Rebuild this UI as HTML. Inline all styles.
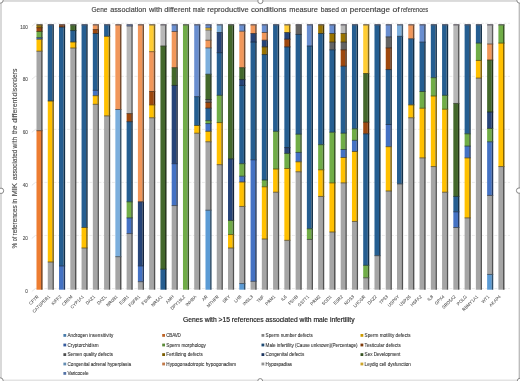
<!DOCTYPE html>
<html><head><meta charset="utf-8"><title>Gene association chart</title>
<style>
html,body{margin:0;padding:0;background:#fff;}
body{width:520px;height:381px;overflow:hidden;}
svg{display:block;will-change:transform;}
text{font-family:"Liberation Sans",sans-serif;}
.tk{font-size:4.6px;fill:#555555;stroke:#555555;stroke-width:0.1px;}
.xl{font-size:4.4px;fill:#4A4A4A;stroke:#4A4A4A;stroke-width:0.05px;}
.lg{font-size:4.6px;fill:#333333;stroke:#333333;stroke-width:0.08px;}
.ti{font-size:8px;fill:#404040;stroke:#404040;stroke-width:0.15px;}
.ax{font-size:6.8px;fill:#1E1E1E;stroke:#1E1E1E;stroke-width:0.18px;}
.ay{font-size:6.8px;fill:#4A4A4A;stroke:#4A4A4A;stroke-width:0.12px;}
</style></head>
<body>
<svg width="520" height="381" viewBox="0 0 520 381">
<rect x="0" y="0" width="520" height="381" fill="#FFFFFF"/>
<text class="ti" x="91.5" y="12.4" textLength="15.9" lengthAdjust="spacingAndGlyphs">Gene</text><text class="ti" x="110.2" y="12.4" textLength="36.1" lengthAdjust="spacingAndGlyphs">association</text><text class="ti" x="148.9" y="12.4" textLength="13.3" lengthAdjust="spacingAndGlyphs">with</text><text class="ti" x="164.2" y="12.4" textLength="26.4" lengthAdjust="spacingAndGlyphs">different</text><text class="ti" x="192.8" y="12.4" textLength="12" lengthAdjust="spacingAndGlyphs">male</text><text class="ti" x="207.2" y="12.4" textLength="41.5" lengthAdjust="spacingAndGlyphs">reproductive</text><text class="ti" x="250.9" y="12.4" textLength="35.6" lengthAdjust="spacingAndGlyphs">conditions</text><text class="ti" x="289.3" y="12.4" textLength="28.6" lengthAdjust="spacingAndGlyphs">measure</text><text class="ti" x="320.7" y="12.4" textLength="18.2" lengthAdjust="spacingAndGlyphs">based</text><text class="ti" x="340.9" y="12.4" textLength="6.3" lengthAdjust="spacingAndGlyphs">on</text><text class="ti" x="349.7" y="12.4" textLength="40.3" lengthAdjust="spacingAndGlyphs">percentage</text><text class="ti" x="392.4" y="12.4" textLength="7.2" lengthAdjust="spacingAndGlyphs">of</text><text class="ti" x="401" y="12.4" textLength="27.2" lengthAdjust="spacingAndGlyphs">references</text>
<text class="ay" transform="translate(16.8,248.4) rotate(-90)" textLength="5.8" lengthAdjust="spacingAndGlyphs">%</text><text class="ay" transform="translate(16.8,241.3) rotate(-90)" textLength="4.6" lengthAdjust="spacingAndGlyphs">of</text><text class="ay" transform="translate(16.8,235.4) rotate(-90)" textLength="30.2" lengthAdjust="spacingAndGlyphs">references</text><text class="ay" transform="translate(16.8,203.6) rotate(-90)" textLength="4.7" lengthAdjust="spacingAndGlyphs">in</text><text class="ay" transform="translate(16.8,196.3) rotate(-90)" textLength="13.1" lengthAdjust="spacingAndGlyphs">MIK</text><text class="ay" transform="translate(16.8,180) rotate(-90)" textLength="30.2" lengthAdjust="spacingAndGlyphs">associated</text><text class="ay" transform="translate(16.8,148.5) rotate(-90)" textLength="11.7" lengthAdjust="spacingAndGlyphs">with</text><text class="ay" transform="translate(16.8,134.1) rotate(-90)" textLength="8.6" lengthAdjust="spacingAndGlyphs">the</text><text class="ay" transform="translate(16.8,122.8) rotate(-90)" textLength="25.2" lengthAdjust="spacingAndGlyphs">different</text><text class="ay" transform="translate(16.8,96.5) rotate(-90)" textLength="27.8" lengthAdjust="spacingAndGlyphs">disorders</text>
<text class="ax" x="183" y="321.8" textLength="171.6" lengthAdjust="spacingAndGlyphs">Genes with &gt;15 references associated with male infertility</text>
<line x1="31.8" y1="26.3" x2="35.4" y2="23.3" stroke="#D9D9D9" stroke-width="0.7"/>
<line x1="35.4" y1="23.3" x2="510" y2="23.3" stroke="#E3E3E3" stroke-width="0.7" stroke-dasharray="3 1.5"/>
<text x="27.9" y="28.6" text-anchor="end" class="tk">100</text>
<line x1="31.8" y1="79.34" x2="35.4" y2="76.34" stroke="#D9D9D9" stroke-width="0.7"/>
<line x1="35.4" y1="76.34" x2="510" y2="76.34" stroke="#E3E3E3" stroke-width="0.7" stroke-dasharray="3 1.5"/>
<text x="27.9" y="81.48" text-anchor="end" class="tk">80</text>
<line x1="31.8" y1="132.38" x2="35.4" y2="129.38" stroke="#D9D9D9" stroke-width="0.7"/>
<line x1="35.4" y1="129.38" x2="510" y2="129.38" stroke="#E3E3E3" stroke-width="0.7" stroke-dasharray="3 1.5"/>
<text x="27.9" y="134.36" text-anchor="end" class="tk">60</text>
<line x1="31.8" y1="185.42" x2="35.4" y2="182.42" stroke="#D9D9D9" stroke-width="0.7"/>
<line x1="35.4" y1="182.42" x2="510" y2="182.42" stroke="#E3E3E3" stroke-width="0.7" stroke-dasharray="3 1.5"/>
<text x="27.9" y="187.24" text-anchor="end" class="tk">40</text>
<line x1="31.8" y1="238.46" x2="35.4" y2="235.46" stroke="#D9D9D9" stroke-width="0.7"/>
<line x1="35.4" y1="235.46" x2="510" y2="235.46" stroke="#E3E3E3" stroke-width="0.7" stroke-dasharray="3 1.5"/>
<text x="27.9" y="240.12" text-anchor="end" class="tk">20</text>
<line x1="31.8" y1="291.5" x2="35.4" y2="288.5" stroke="#D9D9D9" stroke-width="0.7"/>
<line x1="35.4" y1="288.5" x2="510" y2="288.5" stroke="#E3E3E3" stroke-width="0.7" stroke-dasharray="3 1.5"/>
<text x="27.9" y="293" text-anchor="end" class="tk">0</text>
<rect x="36.5" y="24.8" width="4.6" height="2.9" fill="#997300"/>
<polygon points="41.1,24.8 42.6,24.8 42.6,27.7 41.1,27.7" fill="#4C3A00"/>
<rect x="36.5" y="27.7" width="4.6" height="3.8" fill="#9E480E"/>
<polygon points="41.1,27.7 42.6,27.7 42.6,31.5 41.1,31.5" fill="#4F2407"/>
<rect x="36.5" y="31.5" width="4.6" height="6.2" fill="#70AD47"/>
<polygon points="41.1,31.5 42.6,31.5 42.6,37.7 41.1,37.7" fill="#385624"/>
<rect x="36.5" y="37.7" width="4.6" height="1.5" fill="#4472C4"/>
<polygon points="41.1,37.7 42.6,37.7 42.6,39.2 41.1,39.2" fill="#223962"/>
<rect x="36.5" y="39.2" width="4.6" height="12" fill="#FFC000"/>
<polygon points="41.1,39.2 42.6,39.2 42.6,51.2 41.1,51.2" fill="#806000"/>
<rect x="36.5" y="51.2" width="4.6" height="79.5" fill="#A5A5A5"/>
<polygon points="41.1,51.2 42.6,51.2 42.6,130.7 41.1,130.7" fill="#525252"/>
<rect x="36.5" y="130.7" width="4.6" height="159" fill="#ED7D31"/>
<polygon points="41.1,130.7 42.6,130.7 42.6,289.7 41.1,289.7" fill="#763E18"/>
<rect x="36.5" y="27.25" width="6.1" height="0.9" fill="#462A03" opacity="0.9"/>
<rect x="36.5" y="31.05" width="6.1" height="0.9" fill="#3D3713" opacity="0.9"/>
<rect x="36.5" y="37.25" width="6.1" height="0.9" fill="#28413C" opacity="0.9"/>
<rect x="36.5" y="38.75" width="6.1" height="0.9" fill="#49452C" opacity="0.9"/>
<rect x="36.5" y="50.75" width="6.1" height="0.9" fill="#5E5025" opacity="0.9"/>
<rect x="36.5" y="130.25" width="6.1" height="0.9" fill="#5A4130" opacity="0.9"/>
<rect x="36.5" y="24.1" width="6.1" height="1.4" fill="#685D4D"/>
<text class="xl" text-anchor="end" transform="translate(39.1,297) rotate(-45)">CFTR</text>
<rect x="47.77" y="24.8" width="4.6" height="76.2" fill="#255E91"/>
<polygon points="52.37,24.8 53.87,24.8 53.87,101 52.37,101" fill="#122F48"/>
<rect x="47.77" y="101" width="4.6" height="161" fill="#FFC000"/>
<polygon points="52.37,101 53.87,101 53.87,262 52.37,262" fill="#806000"/>
<rect x="47.77" y="262" width="4.6" height="27.7" fill="#A5A5A5"/>
<polygon points="52.37,262 53.87,262 53.87,289.7 52.37,289.7" fill="#525252"/>
<rect x="47.77" y="100.55" width="6.1" height="0.9" fill="#424020" opacity="0.9"/>
<rect x="47.77" y="261.55" width="6.1" height="0.9" fill="#5E5025" opacity="0.9"/>
<rect x="47.77" y="24.1" width="6.1" height="1.4" fill="#50586A"/>
<text class="xl" text-anchor="end" transform="translate(50.37,297) rotate(-45)">CATSPER1</text>
<rect x="59.03" y="24.8" width="4.6" height="2.2" fill="#9E480E"/>
<polygon points="63.63,24.8 65.13,24.8 65.13,27 63.63,27" fill="#4F2407"/>
<rect x="59.03" y="27" width="4.6" height="238.9" fill="#255E91"/>
<polygon points="63.63,27 65.13,27 65.13,265.9 63.63,265.9" fill="#122F48"/>
<rect x="59.03" y="265.9" width="4.6" height="23.8" fill="#4472C4"/>
<polygon points="63.63,265.9 65.13,265.9 65.13,289.7 63.63,289.7" fill="#223962"/>
<rect x="59.03" y="26.55" width="6.1" height="0.9" fill="#2C2524" opacity="0.9"/>
<rect x="59.03" y="265.45" width="6.1" height="0.9" fill="#172F4C" opacity="0.9"/>
<rect x="59.03" y="24.1" width="6.1" height="1.4" fill="#695450"/>
<text class="xl" text-anchor="end" transform="translate(61.63,297) rotate(-45)">KIFF2</text>
<rect x="70.3" y="24.8" width="4.6" height="5.8" fill="#43682B"/>
<polygon points="74.9,24.8 76.4,24.8 76.4,30.6 74.9,30.6" fill="#223416"/>
<rect x="70.3" y="30.6" width="4.6" height="11.4" fill="#255E91"/>
<polygon points="74.9,30.6 76.4,30.6 76.4,42 74.9,42" fill="#122F48"/>
<rect x="70.3" y="42" width="4.6" height="6" fill="#FFC000"/>
<polygon points="74.9,42 76.4,42 76.4,48 74.9,48" fill="#806000"/>
<rect x="70.3" y="48" width="4.6" height="241.7" fill="#A5A5A5"/>
<polygon points="74.9,48 76.4,48 76.4,289.7 74.9,289.7" fill="#525252"/>
<rect x="70.3" y="30.15" width="6.1" height="0.9" fill="#172D2A" opacity="0.9"/>
<rect x="70.3" y="41.55" width="6.1" height="0.9" fill="#424020" opacity="0.9"/>
<rect x="70.3" y="47.55" width="6.1" height="0.9" fill="#5E5025" opacity="0.9"/>
<rect x="70.3" y="24.1" width="6.1" height="1.4" fill="#575A56"/>
<text class="xl" text-anchor="end" transform="translate(72.9,297) rotate(-45)">CREM</text>
<rect x="81.56" y="24.8" width="4.6" height="202.7" fill="#255E91"/>
<polygon points="86.16,24.8 87.66,24.8 87.66,227.5 86.16,227.5" fill="#122F48"/>
<rect x="81.56" y="227.5" width="4.6" height="20.5" fill="#FFC000"/>
<polygon points="86.16,227.5 87.66,227.5 87.66,248 86.16,248" fill="#806000"/>
<rect x="81.56" y="248" width="4.6" height="41.7" fill="#A5A5A5"/>
<polygon points="86.16,248 87.66,248 87.66,289.7 86.16,289.7" fill="#525252"/>
<rect x="81.56" y="227.05" width="6.1" height="0.9" fill="#424020" opacity="0.9"/>
<rect x="81.56" y="247.55" width="6.1" height="0.9" fill="#5E5025" opacity="0.9"/>
<rect x="81.56" y="24.1" width="6.1" height="1.4" fill="#50586A"/>
<text class="xl" text-anchor="end" transform="translate(84.16,297) rotate(-45)">CYP1A1</text>
<rect x="92.83" y="24.8" width="4.6" height="4.8" fill="#F1975A"/>
<polygon points="97.43,24.8 98.93,24.8 98.93,29.6 97.43,29.6" fill="#784C2D"/>
<rect x="92.83" y="29.6" width="4.6" height="3.9" fill="#9E480E"/>
<polygon points="97.43,29.6 98.93,29.6 98.93,33.5 97.43,33.5" fill="#4F2407"/>
<rect x="92.83" y="33.5" width="4.6" height="56.8" fill="#255E91"/>
<polygon points="97.43,33.5 98.93,33.5 98.93,90.3 97.43,90.3" fill="#122F48"/>
<rect x="92.83" y="90.3" width="4.6" height="5.4" fill="#4472C4"/>
<polygon points="97.43,90.3 98.93,90.3 98.93,95.7 97.43,95.7" fill="#223962"/>
<rect x="92.83" y="95.7" width="4.6" height="8.6" fill="#FFC000"/>
<polygon points="97.43,95.7 98.93,95.7 98.93,104.3 97.43,104.3" fill="#806000"/>
<rect x="92.83" y="104.3" width="4.6" height="185.4" fill="#A5A5A5"/>
<polygon points="97.43,104.3 98.93,104.3 98.93,289.7 97.43,289.7" fill="#525252"/>
<rect x="92.83" y="29.15" width="6.1" height="0.9" fill="#5A3217" opacity="0.9"/>
<rect x="92.83" y="33.05" width="6.1" height="0.9" fill="#2C2524" opacity="0.9"/>
<rect x="92.83" y="89.85" width="6.1" height="0.9" fill="#172F4C" opacity="0.9"/>
<rect x="92.83" y="95.25" width="6.1" height="0.9" fill="#49452C" opacity="0.9"/>
<rect x="92.83" y="103.85" width="6.1" height="0.9" fill="#5E5025" opacity="0.9"/>
<rect x="92.83" y="24.1" width="6.1" height="1.4" fill="#79645F"/>
<text class="xl" text-anchor="end" transform="translate(95.43,297) rotate(-45)">DAZ1</text>
<rect x="104.1" y="24.8" width="4.6" height="11.5" fill="#255E91"/>
<polygon points="108.7,24.8 110.2,24.8 110.2,36.3 108.7,36.3" fill="#122F48"/>
<rect x="104.1" y="36.3" width="4.6" height="79.6" fill="#FFC000"/>
<polygon points="108.7,36.3 110.2,36.3 110.2,115.9 108.7,115.9" fill="#806000"/>
<rect x="104.1" y="115.9" width="4.6" height="173.8" fill="#A5A5A5"/>
<polygon points="108.7,115.9 110.2,115.9 110.2,289.7 108.7,289.7" fill="#525252"/>
<rect x="104.1" y="35.85" width="6.1" height="0.9" fill="#424020" opacity="0.9"/>
<rect x="104.1" y="115.45" width="6.1" height="0.9" fill="#5E5025" opacity="0.9"/>
<rect x="104.1" y="24.1" width="6.1" height="1.4" fill="#50586A"/>
<text class="xl" text-anchor="end" transform="translate(106.7,297) rotate(-45)">DAZL</text>
<rect x="115.36" y="24.8" width="4.6" height="84.7" fill="#F1975A"/>
<polygon points="119.96,24.8 121.46,24.8 121.46,109.5 119.96,109.5" fill="#784C2D"/>
<rect x="115.36" y="109.5" width="4.6" height="147.2" fill="#7CAFDD"/>
<polygon points="119.96,109.5 121.46,109.5 121.46,256.7 119.96,256.7" fill="#3E586E"/>
<rect x="115.36" y="256.7" width="4.6" height="33" fill="#A5A5A5"/>
<polygon points="119.96,256.7 121.46,256.7 121.46,289.7 119.96,289.7" fill="#525252"/>
<rect x="115.36" y="109.05" width="6.1" height="0.9" fill="#524946" opacity="0.9"/>
<rect x="115.36" y="256.25" width="6.1" height="0.9" fill="#414C57" opacity="0.9"/>
<rect x="115.36" y="24.1" width="6.1" height="1.4" fill="#79645F"/>
<text class="xl" text-anchor="end" transform="translate(117.96,297) rotate(-45)">NR0B1</text>
<rect x="126.63" y="24.8" width="4.6" height="1.2" fill="#698ED0"/>
<polygon points="131.23,24.8 132.73,24.8 132.73,26 131.23,26" fill="#344768"/>
<rect x="126.63" y="26" width="4.6" height="87.6" fill="#B7B7B7"/>
<polygon points="131.23,26 132.73,26 132.73,113.6 131.23,113.6" fill="#5C5C5C"/>
<rect x="126.63" y="113.6" width="4.6" height="8.1" fill="#9E480E"/>
<polygon points="131.23,113.6 132.73,113.6 132.73,121.7 131.23,121.7" fill="#4F2407"/>
<rect x="126.63" y="121.7" width="4.6" height="80.1" fill="#255E91"/>
<polygon points="131.23,121.7 132.73,121.7 132.73,201.8 131.23,201.8" fill="#122F48"/>
<rect x="126.63" y="201.8" width="4.6" height="16.1" fill="#70AD47"/>
<polygon points="131.23,201.8 132.73,201.8 132.73,217.9 131.23,217.9" fill="#385624"/>
<rect x="126.63" y="217.9" width="4.6" height="15.7" fill="#4472C4"/>
<polygon points="131.23,217.9 132.73,217.9 132.73,233.6 131.23,233.6" fill="#223962"/>
<rect x="126.63" y="233.6" width="4.6" height="56.1" fill="#A5A5A5"/>
<polygon points="131.23,233.6 132.73,233.6 132.73,289.7 131.23,289.7" fill="#525252"/>
<rect x="126.63" y="25.55" width="6.1" height="0.9" fill="#414958" opacity="0.9"/>
<rect x="126.63" y="113.15" width="6.1" height="0.9" fill="#4C3A2C" opacity="0.9"/>
<rect x="126.63" y="121.25" width="6.1" height="0.9" fill="#2C2524" opacity="0.9"/>
<rect x="126.63" y="201.35" width="6.1" height="0.9" fill="#213C31" opacity="0.9"/>
<rect x="126.63" y="217.45" width="6.1" height="0.9" fill="#28413C" opacity="0.9"/>
<rect x="126.63" y="233.15" width="6.1" height="0.9" fill="#343F51" opacity="0.9"/>
<rect x="126.63" y="24.1" width="6.1" height="1.4" fill="#5E6276"/>
<text class="xl" text-anchor="end" transform="translate(129.23,297) rotate(-45)">ESR1</text>
<rect x="137.89" y="24.8" width="4.6" height="177" fill="#F1975A"/>
<polygon points="142.49,24.8 143.99,24.8 143.99,201.8 142.49,201.8" fill="#784C2D"/>
<rect x="137.89" y="201.8" width="4.6" height="64.1" fill="#264478"/>
<polygon points="142.49,201.8 143.99,201.8 143.99,265.9 142.49,265.9" fill="#13223C"/>
<rect x="137.89" y="265.9" width="4.6" height="15.8" fill="#4472C4"/>
<polygon points="142.49,265.9 143.99,265.9 143.99,281.7 142.49,281.7" fill="#223962"/>
<rect x="137.89" y="281.7" width="4.6" height="8" fill="#A5A5A5"/>
<polygon points="142.49,281.7 143.99,281.7 143.99,289.7 142.49,289.7" fill="#525252"/>
<rect x="137.89" y="201.35" width="6.1" height="0.9" fill="#3F322F" opacity="0.9"/>
<rect x="137.89" y="265.45" width="6.1" height="0.9" fill="#182947" opacity="0.9"/>
<rect x="137.89" y="281.25" width="6.1" height="0.9" fill="#343F51" opacity="0.9"/>
<rect x="137.89" y="24.1" width="6.1" height="1.4" fill="#79645F"/>
<text class="xl" text-anchor="end" transform="translate(140.49,297) rotate(-45)">FGFR1</text>
<rect x="149.16" y="24.8" width="4.6" height="26.9" fill="#FFCD33"/>
<polygon points="153.76,24.8 155.26,24.8 155.26,51.7 153.76,51.7" fill="#80661A"/>
<rect x="149.16" y="51.7" width="4.6" height="39.8" fill="#F1975A"/>
<polygon points="153.76,51.7 155.26,51.7 155.26,91.5 153.76,91.5" fill="#784C2D"/>
<rect x="149.16" y="91.5" width="4.6" height="13.4" fill="#9E480E"/>
<polygon points="153.76,91.5 155.26,91.5 155.26,104.9 153.76,104.9" fill="#4F2407"/>
<rect x="149.16" y="104.9" width="4.6" height="12.9" fill="#FFC000"/>
<polygon points="153.76,104.9 155.26,104.9 155.26,117.8 153.76,117.8" fill="#806000"/>
<rect x="149.16" y="117.8" width="4.6" height="171.9" fill="#A5A5A5"/>
<polygon points="153.76,117.8 155.26,117.8 155.26,289.7 153.76,289.7" fill="#525252"/>
<rect x="149.16" y="51.25" width="6.1" height="0.9" fill="#705020" opacity="0.9"/>
<rect x="149.16" y="91.05" width="6.1" height="0.9" fill="#5A3217" opacity="0.9"/>
<rect x="149.16" y="104.45" width="6.1" height="0.9" fill="#5D3B03" opacity="0.9"/>
<rect x="149.16" y="117.35" width="6.1" height="0.9" fill="#5E5025" opacity="0.9"/>
<rect x="149.16" y="24.1" width="6.1" height="1.4" fill="#7C6E57"/>
<text class="xl" text-anchor="end" transform="translate(151.76,297) rotate(-45)">FSHR</text>
<rect x="160.43" y="24.8" width="4.6" height="21.2" fill="#B7B7B7"/>
<polygon points="165.03,24.8 166.53,24.8 166.53,46 165.03,46" fill="#5C5C5C"/>
<rect x="160.43" y="46" width="4.6" height="223.2" fill="#43682B"/>
<polygon points="165.03,46 166.53,46 166.53,269.2 165.03,269.2" fill="#223416"/>
<rect x="160.43" y="269.2" width="4.6" height="20.5" fill="#255E91"/>
<polygon points="165.03,269.2 166.53,269.2 166.53,289.7 165.03,289.7" fill="#122F48"/>
<rect x="160.43" y="45.55" width="6.1" height="0.9" fill="#384133" opacity="0.9"/>
<rect x="160.43" y="268.75" width="6.1" height="0.9" fill="#172D2A" opacity="0.9"/>
<rect x="160.43" y="24.1" width="6.1" height="1.4" fill="#6E6A72"/>
<text class="xl" text-anchor="end" transform="translate(163.03,297) rotate(-45)">NR5A1</text>
<rect x="171.69" y="24.8" width="4.6" height="6.7" fill="#698ED0"/>
<polygon points="176.29,24.8 177.79,24.8 177.79,31.5 176.29,31.5" fill="#344768"/>
<rect x="171.69" y="31.5" width="4.6" height="36.2" fill="#F1975A"/>
<polygon points="176.29,31.5 177.79,31.5 177.79,67.7 176.29,67.7" fill="#784C2D"/>
<rect x="171.69" y="67.7" width="4.6" height="17.7" fill="#43682B"/>
<polygon points="176.29,67.7 177.79,67.7 177.79,85.4 176.29,85.4" fill="#223416"/>
<rect x="171.69" y="85.4" width="4.6" height="78.3" fill="#264478"/>
<polygon points="176.29,85.4 177.79,85.4 177.79,163.7 176.29,163.7" fill="#13223C"/>
<rect x="171.69" y="163.7" width="4.6" height="41.9" fill="#4472C4"/>
<polygon points="176.29,163.7 177.79,163.7 177.79,205.6 176.29,205.6" fill="#223962"/>
<rect x="171.69" y="205.6" width="4.6" height="84.1" fill="#A5A5A5"/>
<polygon points="176.29,205.6 177.79,205.6 177.79,289.7 176.29,289.7" fill="#525252"/>
<rect x="171.69" y="31.05" width="6.1" height="0.9" fill="#4E4243" opacity="0.9"/>
<rect x="171.69" y="67.25" width="6.1" height="0.9" fill="#453A1E" opacity="0.9"/>
<rect x="171.69" y="84.95" width="6.1" height="0.9" fill="#172725" opacity="0.9"/>
<rect x="171.69" y="163.25" width="6.1" height="0.9" fill="#182947" opacity="0.9"/>
<rect x="171.69" y="205.15" width="6.1" height="0.9" fill="#343F51" opacity="0.9"/>
<rect x="171.69" y="24.1" width="6.1" height="1.4" fill="#5E6276"/>
<text class="xl" text-anchor="end" transform="translate(174.29,297) rotate(-45)">AMH</text>
<rect x="182.96" y="24.8" width="4.6" height="264.9" fill="#70AD47"/>
<polygon points="187.56,24.8 189.06,24.8 189.06,289.7 187.56,289.7" fill="#385624"/>
<rect x="182.96" y="24.1" width="6.1" height="1.4" fill="#60685B"/>
<text class="xl" text-anchor="end" transform="translate(185.56,297) rotate(-45)">DPY19L2</text>
<rect x="194.22" y="24.8" width="4.6" height="71.9" fill="#698ED0"/>
<polygon points="198.82,24.8 200.32,24.8 200.32,96.7 198.82,96.7" fill="#344768"/>
<rect x="194.22" y="96.7" width="4.6" height="28.8" fill="#255E91"/>
<polygon points="198.82,96.7 200.32,96.7 200.32,125.5 198.82,125.5" fill="#122F48"/>
<rect x="194.22" y="125.5" width="4.6" height="7.7" fill="#FFC000"/>
<polygon points="198.82,125.5 200.32,125.5 200.32,133.2 198.82,133.2" fill="#806000"/>
<rect x="194.22" y="133.2" width="4.6" height="156.5" fill="#A5A5A5"/>
<polygon points="198.82,133.2 200.32,133.2 200.32,289.7 198.82,289.7" fill="#525252"/>
<rect x="194.22" y="96.25" width="6.1" height="0.9" fill="#20354F" opacity="0.9"/>
<rect x="194.22" y="125.05" width="6.1" height="0.9" fill="#424020" opacity="0.9"/>
<rect x="194.22" y="132.75" width="6.1" height="0.9" fill="#5E5025" opacity="0.9"/>
<rect x="194.22" y="24.1" width="6.1" height="1.4" fill="#5E6276"/>
<text class="xl" text-anchor="end" transform="translate(196.82,297) rotate(-45)">INHBA</text>
<rect x="205.49" y="24.8" width="4.6" height="3.2" fill="#698ED0"/>
<polygon points="210.09,24.8 211.59,24.8 211.59,28 210.09,28" fill="#344768"/>
<rect x="205.49" y="28" width="4.6" height="2" fill="#FFCD33"/>
<polygon points="210.09,28 211.59,28 211.59,30 210.09,30" fill="#80661A"/>
<rect x="205.49" y="30" width="4.6" height="10.2" fill="#B7B7B7"/>
<polygon points="210.09,30 211.59,30 211.59,40.2 210.09,40.2" fill="#5C5C5C"/>
<rect x="205.49" y="40.2" width="4.6" height="7.7" fill="#F1975A"/>
<polygon points="210.09,40.2 211.59,40.2 211.59,47.9 210.09,47.9" fill="#784C2D"/>
<rect x="205.49" y="47.9" width="4.6" height="26.3" fill="#7CAFDD"/>
<polygon points="210.09,47.9 211.59,47.9 211.59,74.2 210.09,74.2" fill="#3E586E"/>
<rect x="205.49" y="74.2" width="4.6" height="25.3" fill="#43682B"/>
<polygon points="210.09,74.2 211.59,74.2 211.59,99.5 210.09,99.5" fill="#223416"/>
<rect x="205.49" y="99.5" width="4.6" height="2.9" fill="#636363"/>
<polygon points="210.09,99.5 211.59,99.5 211.59,102.4 210.09,102.4" fill="#323232"/>
<rect x="205.49" y="102.4" width="4.6" height="5.8" fill="#9E480E"/>
<polygon points="210.09,102.4 211.59,102.4 211.59,108.2 210.09,108.2" fill="#4F2407"/>
<rect x="205.49" y="108.2" width="4.6" height="12.5" fill="#255E91"/>
<polygon points="210.09,108.2 211.59,108.2 211.59,120.7 210.09,120.7" fill="#122F48"/>
<rect x="205.49" y="120.7" width="4.6" height="2.9" fill="#70AD47"/>
<polygon points="210.09,120.7 211.59,120.7 211.59,123.6 210.09,123.6" fill="#385624"/>
<rect x="205.49" y="123.6" width="4.6" height="7.7" fill="#4472C4"/>
<polygon points="210.09,123.6 211.59,123.6 211.59,131.3 210.09,131.3" fill="#223962"/>
<rect x="205.49" y="131.3" width="4.6" height="10.5" fill="#FFC000"/>
<polygon points="210.09,131.3 211.59,131.3 211.59,141.8 210.09,141.8" fill="#806000"/>
<rect x="205.49" y="141.8" width="4.6" height="68.4" fill="#A5A5A5"/>
<polygon points="210.09,141.8 211.59,141.8 211.59,210.2 210.09,210.2" fill="#525252"/>
<rect x="205.49" y="210.2" width="4.6" height="79.5" fill="#5B9BD5"/>
<polygon points="210.09,210.2 211.59,210.2 211.59,289.7 210.09,289.7" fill="#2E4E6A"/>
<rect x="205.49" y="27.55" width="6.1" height="0.9" fill="#514E3A" opacity="0.9"/>
<rect x="205.49" y="29.55" width="6.1" height="0.9" fill="#635735" opacity="0.9"/>
<rect x="205.49" y="39.75" width="6.1" height="0.9" fill="#5F4B3D" opacity="0.9"/>
<rect x="205.49" y="47.45" width="6.1" height="0.9" fill="#524946" opacity="0.9"/>
<rect x="205.49" y="73.75" width="6.1" height="0.9" fill="#2B3F3B" opacity="0.9"/>
<rect x="205.49" y="99.05" width="6.1" height="0.9" fill="#252E20" opacity="0.9"/>
<rect x="205.49" y="101.95" width="6.1" height="0.9" fill="#3A2719" opacity="0.9"/>
<rect x="205.49" y="107.75" width="6.1" height="0.9" fill="#2C2524" opacity="0.9"/>
<rect x="205.49" y="120.25" width="6.1" height="0.9" fill="#213C31" opacity="0.9"/>
<rect x="205.49" y="123.15" width="6.1" height="0.9" fill="#28413C" opacity="0.9"/>
<rect x="205.49" y="130.85" width="6.1" height="0.9" fill="#49452C" opacity="0.9"/>
<rect x="205.49" y="141.35" width="6.1" height="0.9" fill="#5E5025" opacity="0.9"/>
<rect x="205.49" y="209.75" width="6.1" height="0.9" fill="#3A4855" opacity="0.9"/>
<rect x="205.49" y="24.1" width="6.1" height="1.4" fill="#5E6276"/>
<text class="xl" text-anchor="end" transform="translate(208.09,297) rotate(-45)">AR</text>
<rect x="216.76" y="24.8" width="4.6" height="7.7" fill="#7CAFDD"/>
<polygon points="221.36,24.8 222.86,24.8 222.86,32.5 221.36,32.5" fill="#3E586E"/>
<rect x="216.76" y="32.5" width="4.6" height="20.2" fill="#264478"/>
<polygon points="221.36,32.5 222.86,32.5 222.86,52.7 221.36,52.7" fill="#13223C"/>
<rect x="216.76" y="52.7" width="4.6" height="42.6" fill="#255E91"/>
<polygon points="221.36,52.7 222.86,52.7 222.86,95.3 221.36,95.3" fill="#122F48"/>
<rect x="216.76" y="95.3" width="4.6" height="27.3" fill="#70AD47"/>
<polygon points="221.36,95.3 222.86,95.3 222.86,122.6 221.36,122.6" fill="#385624"/>
<rect x="216.76" y="122.6" width="4.6" height="42.1" fill="#FFC000"/>
<polygon points="221.36,122.6 222.86,122.6 222.86,164.7 221.36,164.7" fill="#806000"/>
<rect x="216.76" y="164.7" width="4.6" height="125" fill="#A5A5A5"/>
<polygon points="221.36,164.7 222.86,164.7 222.86,289.7 221.36,289.7" fill="#525252"/>
<rect x="216.76" y="32.05" width="6.1" height="0.9" fill="#24374C" opacity="0.9"/>
<rect x="216.76" y="52.25" width="6.1" height="0.9" fill="#11243B" opacity="0.9"/>
<rect x="216.76" y="94.85" width="6.1" height="0.9" fill="#213C31" opacity="0.9"/>
<rect x="216.76" y="122.15" width="6.1" height="0.9" fill="#535210" opacity="0.9"/>
<rect x="216.76" y="164.25" width="6.1" height="0.9" fill="#5E5025" opacity="0.9"/>
<rect x="216.76" y="24.1" width="6.1" height="1.4" fill="#626979"/>
<text class="xl" text-anchor="end" transform="translate(219.36,297) rotate(-45)">MTHFR</text>
<rect x="228.02" y="24.8" width="4.6" height="134.1" fill="#43682B"/>
<polygon points="232.62,24.8 234.12,24.8 234.12,158.9 232.62,158.9" fill="#223416"/>
<rect x="228.02" y="158.9" width="4.6" height="61.5" fill="#264478"/>
<polygon points="232.62,158.9 234.12,158.9 234.12,220.4 232.62,220.4" fill="#13223C"/>
<rect x="228.02" y="220.4" width="4.6" height="14.2" fill="#70AD47"/>
<polygon points="232.62,220.4 234.12,220.4 234.12,234.6 232.62,234.6" fill="#385624"/>
<rect x="228.02" y="234.6" width="4.6" height="13.4" fill="#FFC000"/>
<polygon points="232.62,234.6 234.12,234.6 234.12,248 232.62,248" fill="#806000"/>
<rect x="228.02" y="248" width="4.6" height="41.7" fill="#A5A5A5"/>
<polygon points="232.62,248 234.12,248 234.12,289.7 232.62,289.7" fill="#525252"/>
<rect x="228.02" y="158.45" width="6.1" height="0.9" fill="#172725" opacity="0.9"/>
<rect x="228.02" y="219.95" width="6.1" height="0.9" fill="#22362B" opacity="0.9"/>
<rect x="228.02" y="234.15" width="6.1" height="0.9" fill="#535210" opacity="0.9"/>
<rect x="228.02" y="247.55" width="6.1" height="0.9" fill="#5E5025" opacity="0.9"/>
<rect x="228.02" y="24.1" width="6.1" height="1.4" fill="#575A56"/>
<text class="xl" text-anchor="end" transform="translate(230.62,297) rotate(-45)">SRY</text>
<rect x="239.29" y="24.8" width="4.6" height="6.4" fill="#698ED0"/>
<polygon points="243.89,24.8 245.39,24.8 245.39,31.2 243.89,31.2" fill="#344768"/>
<rect x="239.29" y="31.2" width="4.6" height="36.5" fill="#F1975A"/>
<polygon points="243.89,31.2 245.39,31.2 245.39,67.7 243.89,67.7" fill="#784C2D"/>
<rect x="239.29" y="67.7" width="4.6" height="11.9" fill="#43682B"/>
<polygon points="243.89,67.7 245.39,67.7 245.39,79.6 243.89,79.6" fill="#223416"/>
<rect x="239.29" y="79.6" width="4.6" height="5.8" fill="#264478"/>
<polygon points="243.89,79.6 245.39,79.6 245.39,85.4 243.89,85.4" fill="#13223C"/>
<rect x="239.29" y="85.4" width="4.6" height="78.3" fill="#255E91"/>
<polygon points="243.89,85.4 245.39,85.4 245.39,163.7 243.89,163.7" fill="#122F48"/>
<rect x="239.29" y="163.7" width="4.6" height="12.5" fill="#70AD47"/>
<polygon points="243.89,163.7 245.39,163.7 245.39,176.2 243.89,176.2" fill="#385624"/>
<rect x="239.29" y="176.2" width="4.6" height="5.8" fill="#4472C4"/>
<polygon points="243.89,176.2 245.39,176.2 245.39,182 243.89,182" fill="#223962"/>
<rect x="239.29" y="182" width="4.6" height="24.4" fill="#FFC000"/>
<polygon points="243.89,182 245.39,182 245.39,206.4 243.89,206.4" fill="#806000"/>
<rect x="239.29" y="206.4" width="4.6" height="77.2" fill="#A5A5A5"/>
<polygon points="243.89,206.4 245.39,206.4 245.39,283.6 243.89,283.6" fill="#525252"/>
<rect x="239.29" y="283.6" width="4.6" height="6.1" fill="#5B9BD5"/>
<polygon points="243.89,283.6 245.39,283.6 245.39,289.7 243.89,289.7" fill="#2E4E6A"/>
<rect x="239.29" y="30.75" width="6.1" height="0.9" fill="#4E4243" opacity="0.9"/>
<rect x="239.29" y="67.25" width="6.1" height="0.9" fill="#453A1E" opacity="0.9"/>
<rect x="239.29" y="79.15" width="6.1" height="0.9" fill="#172725" opacity="0.9"/>
<rect x="239.29" y="84.95" width="6.1" height="0.9" fill="#11243B" opacity="0.9"/>
<rect x="239.29" y="163.25" width="6.1" height="0.9" fill="#213C31" opacity="0.9"/>
<rect x="239.29" y="175.75" width="6.1" height="0.9" fill="#28413C" opacity="0.9"/>
<rect x="239.29" y="181.55" width="6.1" height="0.9" fill="#49452C" opacity="0.9"/>
<rect x="239.29" y="205.95" width="6.1" height="0.9" fill="#5E5025" opacity="0.9"/>
<rect x="239.29" y="283.15" width="6.1" height="0.9" fill="#3A4855" opacity="0.9"/>
<rect x="239.29" y="24.1" width="6.1" height="1.4" fill="#5E6276"/>
<text class="xl" text-anchor="end" transform="translate(241.89,297) rotate(-45)">LHB</text>
<rect x="250.55" y="24.8" width="4.6" height="8.7" fill="#F1975A"/>
<polygon points="255.15,24.8 256.65,24.8 256.65,33.5 255.15,33.5" fill="#784C2D"/>
<rect x="250.55" y="33.5" width="4.6" height="8.6" fill="#264478"/>
<polygon points="255.15,33.5 256.65,33.5 256.65,42.1 255.15,42.1" fill="#13223C"/>
<rect x="250.55" y="42.1" width="4.6" height="117.7" fill="#255E91"/>
<polygon points="255.15,42.1 256.65,42.1 256.65,159.8 255.15,159.8" fill="#122F48"/>
<rect x="250.55" y="159.8" width="4.6" height="121.5" fill="#4472C4"/>
<polygon points="255.15,159.8 256.65,159.8 256.65,281.3 255.15,281.3" fill="#223962"/>
<rect x="250.55" y="281.3" width="4.6" height="8.4" fill="#A5A5A5"/>
<polygon points="255.15,281.3 256.65,281.3 256.65,289.7 255.15,289.7" fill="#525252"/>
<rect x="250.55" y="33.05" width="6.1" height="0.9" fill="#3F322F" opacity="0.9"/>
<rect x="250.55" y="41.65" width="6.1" height="0.9" fill="#11243B" opacity="0.9"/>
<rect x="250.55" y="159.35" width="6.1" height="0.9" fill="#172F4C" opacity="0.9"/>
<rect x="250.55" y="280.85" width="6.1" height="0.9" fill="#343F51" opacity="0.9"/>
<rect x="250.55" y="24.1" width="6.1" height="1.4" fill="#79645F"/>
<text class="xl" text-anchor="end" transform="translate(253.15,297) rotate(-45)">INSL3</text>
<rect x="261.82" y="24.8" width="4.6" height="7.7" fill="#698ED0"/>
<polygon points="266.42,24.8 267.92,24.8 267.92,32.5 266.42,32.5" fill="#344768"/>
<rect x="261.82" y="32.5" width="4.6" height="7.7" fill="#F1975A"/>
<polygon points="266.42,32.5 267.92,32.5 267.92,40.2 266.42,40.2" fill="#784C2D"/>
<rect x="261.82" y="40.2" width="4.6" height="6.7" fill="#264478"/>
<polygon points="266.42,40.2 267.92,40.2 267.92,46.9 266.42,46.9" fill="#13223C"/>
<rect x="261.82" y="46.9" width="4.6" height="7.7" fill="#997300"/>
<polygon points="266.42,46.9 267.92,46.9 267.92,54.6 266.42,54.6" fill="#4C3A00"/>
<rect x="261.82" y="54.6" width="4.6" height="125.4" fill="#255E91"/>
<polygon points="266.42,54.6 267.92,54.6 267.92,180 266.42,180" fill="#122F48"/>
<rect x="261.82" y="180" width="4.6" height="6.8" fill="#70AD47"/>
<polygon points="266.42,180 267.92,180 267.92,186.8 266.42,186.8" fill="#385624"/>
<rect x="261.82" y="186.8" width="4.6" height="52.2" fill="#FFC000"/>
<polygon points="266.42,186.8 267.92,186.8 267.92,239 266.42,239" fill="#806000"/>
<rect x="261.82" y="239" width="4.6" height="50.7" fill="#A5A5A5"/>
<polygon points="266.42,239 267.92,239 267.92,289.7 266.42,289.7" fill="#525252"/>
<rect x="261.82" y="32.05" width="6.1" height="0.9" fill="#4E4243" opacity="0.9"/>
<rect x="261.82" y="39.75" width="6.1" height="0.9" fill="#3F322F" opacity="0.9"/>
<rect x="261.82" y="46.45" width="6.1" height="0.9" fill="#2B291B" opacity="0.9"/>
<rect x="261.82" y="54.15" width="6.1" height="0.9" fill="#2B2F20" opacity="0.9"/>
<rect x="261.82" y="179.55" width="6.1" height="0.9" fill="#213C31" opacity="0.9"/>
<rect x="261.82" y="186.35" width="6.1" height="0.9" fill="#535210" opacity="0.9"/>
<rect x="261.82" y="238.55" width="6.1" height="0.9" fill="#5E5025" opacity="0.9"/>
<rect x="261.82" y="24.1" width="6.1" height="1.4" fill="#5E6276"/>
<text class="xl" text-anchor="end" transform="translate(264.42,297) rotate(-45)">TNF</text>
<rect x="273.09" y="24.8" width="4.6" height="106.5" fill="#255E91"/>
<polygon points="277.69,24.8 279.19,24.8 279.19,131.3 277.69,131.3" fill="#122F48"/>
<rect x="273.09" y="131.3" width="4.6" height="37.7" fill="#70AD47"/>
<polygon points="277.69,131.3 279.19,131.3 279.19,169 277.69,169" fill="#385624"/>
<rect x="273.09" y="169" width="4.6" height="23.2" fill="#FFC000"/>
<polygon points="277.69,169 279.19,169 279.19,192.2 277.69,192.2" fill="#806000"/>
<rect x="273.09" y="192.2" width="4.6" height="97.5" fill="#A5A5A5"/>
<polygon points="277.69,192.2 279.19,192.2 279.19,289.7 277.69,289.7" fill="#525252"/>
<rect x="273.09" y="130.85" width="6.1" height="0.9" fill="#213C31" opacity="0.9"/>
<rect x="273.09" y="168.55" width="6.1" height="0.9" fill="#535210" opacity="0.9"/>
<rect x="273.09" y="191.75" width="6.1" height="0.9" fill="#5E5025" opacity="0.9"/>
<rect x="273.09" y="24.1" width="6.1" height="1.4" fill="#50586A"/>
<text class="xl" text-anchor="end" transform="translate(275.69,297) rotate(-45)">PRM1</text>
<rect x="284.35" y="24.8" width="4.6" height="7.7" fill="#FFCD33"/>
<polygon points="288.95,24.8 290.45,24.8 290.45,32.5 288.95,32.5" fill="#80661A"/>
<rect x="284.35" y="32.5" width="4.6" height="6.7" fill="#264478"/>
<polygon points="288.95,32.5 290.45,32.5 290.45,39.2 288.95,39.2" fill="#13223C"/>
<rect x="284.35" y="39.2" width="4.6" height="7.7" fill="#9E480E"/>
<polygon points="288.95,39.2 290.45,39.2 290.45,46.9 288.95,46.9" fill="#4F2407"/>
<rect x="284.35" y="46.9" width="4.6" height="100.7" fill="#255E91"/>
<polygon points="288.95,46.9 290.45,46.9 290.45,147.6 288.95,147.6" fill="#122F48"/>
<rect x="284.35" y="147.6" width="4.6" height="5.8" fill="#264478"/>
<polygon points="288.95,147.6 290.45,147.6 290.45,153.4 288.95,153.4" fill="#13223C"/>
<rect x="284.35" y="153.4" width="4.6" height="15.1" fill="#70AD47"/>
<polygon points="288.95,153.4 290.45,153.4 290.45,168.5 288.95,168.5" fill="#385624"/>
<rect x="284.35" y="168.5" width="4.6" height="71.8" fill="#FFC000"/>
<polygon points="288.95,168.5 290.45,168.5 290.45,240.3 288.95,240.3" fill="#806000"/>
<rect x="284.35" y="240.3" width="4.6" height="49.4" fill="#A5A5A5"/>
<polygon points="288.95,240.3 290.45,240.3 290.45,289.7 288.95,289.7" fill="#525252"/>
<rect x="284.35" y="32.05" width="6.1" height="0.9" fill="#423D27" opacity="0.9"/>
<rect x="284.35" y="38.75" width="6.1" height="0.9" fill="#2C201E" opacity="0.9"/>
<rect x="284.35" y="46.45" width="6.1" height="0.9" fill="#2C2524" opacity="0.9"/>
<rect x="284.35" y="147.15" width="6.1" height="0.9" fill="#11243B" opacity="0.9"/>
<rect x="284.35" y="152.95" width="6.1" height="0.9" fill="#22362B" opacity="0.9"/>
<rect x="284.35" y="168.05" width="6.1" height="0.9" fill="#535210" opacity="0.9"/>
<rect x="284.35" y="239.85" width="6.1" height="0.9" fill="#5E5025" opacity="0.9"/>
<rect x="284.35" y="24.1" width="6.1" height="1.4" fill="#7C6E57"/>
<text class="xl" text-anchor="end" transform="translate(286.95,297) rotate(-45)">IL6</text>
<rect x="295.62" y="24.8" width="4.6" height="9.6" fill="#636363"/>
<polygon points="300.22,24.8 301.72,24.8 301.72,34.4 300.22,34.4" fill="#323232"/>
<rect x="295.62" y="34.4" width="4.6" height="99.8" fill="#255E91"/>
<polygon points="300.22,34.4 301.72,34.4 301.72,134.2 300.22,134.2" fill="#122F48"/>
<rect x="295.62" y="134.2" width="4.6" height="18.2" fill="#70AD47"/>
<polygon points="300.22,134.2 301.72,134.2 301.72,152.4 300.22,152.4" fill="#385624"/>
<rect x="295.62" y="152.4" width="4.6" height="9.4" fill="#4472C4"/>
<polygon points="300.22,152.4 301.72,152.4 301.72,161.8 300.22,161.8" fill="#223962"/>
<rect x="295.62" y="161.8" width="4.6" height="10" fill="#FFC000"/>
<polygon points="300.22,161.8 301.72,161.8 301.72,171.8 300.22,171.8" fill="#806000"/>
<rect x="295.62" y="171.8" width="4.6" height="117.9" fill="#A5A5A5"/>
<polygon points="300.22,171.8 301.72,171.8 301.72,289.7 300.22,289.7" fill="#525252"/>
<rect x="295.62" y="33.95" width="6.1" height="0.9" fill="#1F2B37" opacity="0.9"/>
<rect x="295.62" y="133.75" width="6.1" height="0.9" fill="#213C31" opacity="0.9"/>
<rect x="295.62" y="151.95" width="6.1" height="0.9" fill="#28413C" opacity="0.9"/>
<rect x="295.62" y="161.35" width="6.1" height="0.9" fill="#49452C" opacity="0.9"/>
<rect x="295.62" y="171.35" width="6.1" height="0.9" fill="#5E5025" opacity="0.9"/>
<rect x="295.62" y="24.1" width="6.1" height="1.4" fill="#5D5A61"/>
<text class="xl" text-anchor="end" transform="translate(298.22,297) rotate(-45)">FSHB</text>
<rect x="306.88" y="24.8" width="4.6" height="21.2" fill="#698ED0"/>
<polygon points="311.48,24.8 312.98,24.8 312.98,46 311.48,46" fill="#344768"/>
<rect x="306.88" y="46" width="4.6" height="182.8" fill="#255E91"/>
<polygon points="311.48,46 312.98,46 312.98,228.8 311.48,228.8" fill="#122F48"/>
<rect x="306.88" y="228.8" width="4.6" height="10.6" fill="#70AD47"/>
<polygon points="311.48,228.8 312.98,228.8 312.98,239.4 311.48,239.4" fill="#385624"/>
<rect x="306.88" y="239.4" width="4.6" height="50.3" fill="#A5A5A5"/>
<polygon points="311.48,239.4 312.98,239.4 312.98,289.7 311.48,289.7" fill="#525252"/>
<rect x="306.88" y="45.55" width="6.1" height="0.9" fill="#20354F" opacity="0.9"/>
<rect x="306.88" y="228.35" width="6.1" height="0.9" fill="#213C31" opacity="0.9"/>
<rect x="306.88" y="238.95" width="6.1" height="0.9" fill="#3E4C35" opacity="0.9"/>
<rect x="306.88" y="24.1" width="6.1" height="1.4" fill="#5E6276"/>
<text class="xl" text-anchor="end" transform="translate(309.48,297) rotate(-45)">GSTT1</text>
<rect x="318.15" y="24.8" width="4.6" height="8.7" fill="#997300"/>
<polygon points="322.75,24.8 324.25,24.8 324.25,33.5 322.75,33.5" fill="#4C3A00"/>
<rect x="318.15" y="33.5" width="4.6" height="111.2" fill="#255E91"/>
<polygon points="322.75,33.5 324.25,33.5 324.25,144.7 322.75,144.7" fill="#122F48"/>
<rect x="318.15" y="144.7" width="4.6" height="25.1" fill="#70AD47"/>
<polygon points="322.75,144.7 324.25,144.7 324.25,169.8 322.75,169.8" fill="#385624"/>
<rect x="318.15" y="169.8" width="4.6" height="26.6" fill="#FFC000"/>
<polygon points="322.75,169.8 324.25,169.8 324.25,196.4 322.75,196.4" fill="#806000"/>
<rect x="318.15" y="196.4" width="4.6" height="93.3" fill="#A5A5A5"/>
<polygon points="322.75,196.4 324.25,196.4 324.25,289.7 322.75,289.7" fill="#525252"/>
<rect x="318.15" y="33.05" width="6.1" height="0.9" fill="#2B2F20" opacity="0.9"/>
<rect x="318.15" y="144.25" width="6.1" height="0.9" fill="#213C31" opacity="0.9"/>
<rect x="318.15" y="169.35" width="6.1" height="0.9" fill="#535210" opacity="0.9"/>
<rect x="318.15" y="195.95" width="6.1" height="0.9" fill="#5E5025" opacity="0.9"/>
<rect x="318.15" y="24.1" width="6.1" height="1.4" fill="#685D4D"/>
<text class="xl" text-anchor="end" transform="translate(320.75,297) rotate(-45)">PRM2</text>
<rect x="329.42" y="24.8" width="4.6" height="8.7" fill="#698ED0"/>
<polygon points="334.02,24.8 335.52,24.8 335.52,33.5 334.02,33.5" fill="#344768"/>
<rect x="329.42" y="33.5" width="4.6" height="8.6" fill="#997300"/>
<polygon points="334.02,33.5 335.52,33.5 335.52,42.1 334.02,42.1" fill="#4C3A00"/>
<rect x="329.42" y="42.1" width="4.6" height="7.7" fill="#636363"/>
<polygon points="334.02,42.1 335.52,42.1 335.52,49.8 334.02,49.8" fill="#323232"/>
<rect x="329.42" y="49.8" width="4.6" height="82.4" fill="#255E91"/>
<polygon points="334.02,49.8 335.52,49.8 335.52,132.2 334.02,132.2" fill="#122F48"/>
<rect x="329.42" y="132.2" width="4.6" height="50.7" fill="#70AD47"/>
<polygon points="334.02,132.2 335.52,132.2 335.52,182.9 334.02,182.9" fill="#385624"/>
<rect x="329.42" y="182.9" width="4.6" height="49.1" fill="#FFC000"/>
<polygon points="334.02,182.9 335.52,182.9 335.52,232 334.02,232" fill="#806000"/>
<rect x="329.42" y="232" width="4.6" height="57.7" fill="#A5A5A5"/>
<polygon points="334.02,232 335.52,232 335.52,289.7 334.02,289.7" fill="#525252"/>
<rect x="329.42" y="33.05" width="6.1" height="0.9" fill="#3A3A2F" opacity="0.9"/>
<rect x="329.42" y="41.65" width="6.1" height="0.9" fill="#393016" opacity="0.9"/>
<rect x="329.42" y="49.35" width="6.1" height="0.9" fill="#1F2B37" opacity="0.9"/>
<rect x="329.42" y="131.75" width="6.1" height="0.9" fill="#213C31" opacity="0.9"/>
<rect x="329.42" y="182.45" width="6.1" height="0.9" fill="#535210" opacity="0.9"/>
<rect x="329.42" y="231.55" width="6.1" height="0.9" fill="#5E5025" opacity="0.9"/>
<rect x="329.42" y="24.1" width="6.1" height="1.4" fill="#5E6276"/>
<text class="xl" text-anchor="end" transform="translate(332.02,297) rotate(-45)">SOD1</text>
<rect x="340.68" y="24.8" width="4.6" height="8.7" fill="#B7B7B7"/>
<polygon points="345.28,24.8 346.78,24.8 346.78,33.5 345.28,33.5" fill="#5C5C5C"/>
<rect x="340.68" y="33.5" width="4.6" height="8.6" fill="#997300"/>
<polygon points="345.28,33.5 346.78,33.5 346.78,42.1 345.28,42.1" fill="#4C3A00"/>
<rect x="340.68" y="42.1" width="4.6" height="7.7" fill="#636363"/>
<polygon points="345.28,42.1 346.78,42.1 346.78,49.8 345.28,49.8" fill="#323232"/>
<rect x="340.68" y="49.8" width="4.6" height="16.4" fill="#9E480E"/>
<polygon points="345.28,49.8 346.78,49.8 346.78,66.2 345.28,66.2" fill="#4F2407"/>
<rect x="340.68" y="66.2" width="4.6" height="67" fill="#255E91"/>
<polygon points="345.28,66.2 346.78,66.2 346.78,133.2 345.28,133.2" fill="#122F48"/>
<rect x="340.68" y="133.2" width="4.6" height="16.3" fill="#70AD47"/>
<polygon points="345.28,133.2 346.78,133.2 346.78,149.5 345.28,149.5" fill="#385624"/>
<rect x="340.68" y="149.5" width="4.6" height="8" fill="#4472C4"/>
<polygon points="345.28,149.5 346.78,149.5 346.78,157.5 345.28,157.5" fill="#223962"/>
<rect x="340.68" y="157.5" width="4.6" height="25.4" fill="#FFC000"/>
<polygon points="345.28,157.5 346.78,157.5 346.78,182.9 345.28,182.9" fill="#806000"/>
<rect x="340.68" y="182.9" width="4.6" height="106.8" fill="#A5A5A5"/>
<polygon points="345.28,182.9 346.78,182.9 346.78,289.7 345.28,289.7" fill="#525252"/>
<rect x="340.68" y="33.05" width="6.1" height="0.9" fill="#4C4329" opacity="0.9"/>
<rect x="340.68" y="41.65" width="6.1" height="0.9" fill="#393016" opacity="0.9"/>
<rect x="340.68" y="49.35" width="6.1" height="0.9" fill="#3A2719" opacity="0.9"/>
<rect x="340.68" y="65.75" width="6.1" height="0.9" fill="#2C2524" opacity="0.9"/>
<rect x="340.68" y="132.75" width="6.1" height="0.9" fill="#213C31" opacity="0.9"/>
<rect x="340.68" y="149.05" width="6.1" height="0.9" fill="#28413C" opacity="0.9"/>
<rect x="340.68" y="157.05" width="6.1" height="0.9" fill="#49452C" opacity="0.9"/>
<rect x="340.68" y="182.45" width="6.1" height="0.9" fill="#5E5025" opacity="0.9"/>
<rect x="340.68" y="24.1" width="6.1" height="1.4" fill="#6E6A72"/>
<text class="xl" text-anchor="end" transform="translate(343.28,297) rotate(-45)">ESR2</text>
<rect x="351.95" y="24.8" width="4.6" height="104" fill="#255E91"/>
<polygon points="356.55,24.8 358.05,24.8 358.05,128.8 356.55,128.8" fill="#122F48"/>
<rect x="351.95" y="128.8" width="4.6" height="11.5" fill="#70AD47"/>
<polygon points="356.55,128.8 358.05,128.8 358.05,140.3 356.55,140.3" fill="#385624"/>
<rect x="351.95" y="140.3" width="4.6" height="11.2" fill="#4472C4"/>
<polygon points="356.55,140.3 358.05,140.3 358.05,151.5 356.55,151.5" fill="#223962"/>
<rect x="351.95" y="151.5" width="4.6" height="69.9" fill="#FFC000"/>
<polygon points="356.55,151.5 358.05,151.5 358.05,221.4 356.55,221.4" fill="#806000"/>
<rect x="351.95" y="221.4" width="4.6" height="68.3" fill="#A5A5A5"/>
<polygon points="356.55,221.4 358.05,221.4 358.05,289.7 356.55,289.7" fill="#525252"/>
<rect x="351.95" y="128.35" width="6.1" height="0.9" fill="#213C31" opacity="0.9"/>
<rect x="351.95" y="139.85" width="6.1" height="0.9" fill="#28413C" opacity="0.9"/>
<rect x="351.95" y="151.05" width="6.1" height="0.9" fill="#49452C" opacity="0.9"/>
<rect x="351.95" y="220.95" width="6.1" height="0.9" fill="#5E5025" opacity="0.9"/>
<rect x="351.95" y="24.1" width="6.1" height="1.4" fill="#50586A"/>
<text class="xl" text-anchor="end" transform="translate(354.55,297) rotate(-45)">NOS3</text>
<rect x="363.21" y="24.8" width="4.6" height="48.7" fill="#FFCD33"/>
<polygon points="367.81,24.8 369.31,24.8 369.31,73.5 367.81,73.5" fill="#80661A"/>
<rect x="363.21" y="73.5" width="4.6" height="48.7" fill="#43682B"/>
<polygon points="367.81,73.5 369.31,73.5 369.31,122.2 367.81,122.2" fill="#223416"/>
<rect x="363.21" y="122.2" width="4.6" height="11.6" fill="#9E480E"/>
<polygon points="367.81,122.2 369.31,122.2 369.31,133.8 367.81,133.8" fill="#4F2407"/>
<rect x="363.21" y="133.8" width="4.6" height="131.5" fill="#255E91"/>
<polygon points="367.81,133.8 369.31,133.8 369.31,265.3 367.81,265.3" fill="#122F48"/>
<rect x="363.21" y="265.3" width="4.6" height="12.5" fill="#70AD47"/>
<polygon points="367.81,265.3 369.31,265.3 369.31,277.8 367.81,277.8" fill="#385624"/>
<rect x="363.21" y="277.8" width="4.6" height="11.9" fill="#A5A5A5"/>
<polygon points="367.81,277.8 369.31,277.8 369.31,289.7 367.81,289.7" fill="#525252"/>
<rect x="363.21" y="73.05" width="6.1" height="0.9" fill="#484515" opacity="0.9"/>
<rect x="363.21" y="121.75" width="6.1" height="0.9" fill="#32280D" opacity="0.9"/>
<rect x="363.21" y="133.35" width="6.1" height="0.9" fill="#2C2524" opacity="0.9"/>
<rect x="363.21" y="264.85" width="6.1" height="0.9" fill="#213C31" opacity="0.9"/>
<rect x="363.21" y="277.35" width="6.1" height="0.9" fill="#3E4C35" opacity="0.9"/>
<rect x="363.21" y="24.1" width="6.1" height="1.4" fill="#7C6E57"/>
<text class="xl" text-anchor="end" transform="translate(365.81,297) rotate(-45)">LHCGR</text>
<rect x="374.48" y="24.8" width="4.6" height="230.9" fill="#255E91"/>
<polygon points="379.08,24.8 380.58,24.8 380.58,255.7 379.08,255.7" fill="#122F48"/>
<rect x="374.48" y="255.7" width="4.6" height="34" fill="#A5A5A5"/>
<polygon points="379.08,255.7 380.58,255.7 380.58,289.7 379.08,289.7" fill="#525252"/>
<rect x="374.48" y="255.25" width="6.1" height="0.9" fill="#2D3A46" opacity="0.9"/>
<rect x="374.48" y="24.1" width="6.1" height="1.4" fill="#50586A"/>
<text class="xl" text-anchor="end" transform="translate(377.08,297) rotate(-45)">DAZ2</text>
<rect x="385.75" y="24.8" width="4.6" height="12.1" fill="#698ED0"/>
<polygon points="390.35,24.8 391.85,24.8 391.85,36.9 390.35,36.9" fill="#344768"/>
<rect x="385.75" y="36.9" width="4.6" height="11" fill="#636363"/>
<polygon points="390.35,36.9 391.85,36.9 391.85,47.9 390.35,47.9" fill="#323232"/>
<rect x="385.75" y="47.9" width="4.6" height="21.7" fill="#9E480E"/>
<polygon points="390.35,47.9 391.85,47.9 391.85,69.6 390.35,69.6" fill="#4F2407"/>
<rect x="385.75" y="69.6" width="4.6" height="54.9" fill="#255E91"/>
<polygon points="390.35,69.6 391.85,69.6 391.85,124.5 390.35,124.5" fill="#122F48"/>
<rect x="385.75" y="124.5" width="4.6" height="22.2" fill="#4472C4"/>
<polygon points="390.35,124.5 391.85,124.5 391.85,146.7 390.35,146.7" fill="#223962"/>
<rect x="385.75" y="146.7" width="4.6" height="44.3" fill="#FFC000"/>
<polygon points="390.35,146.7 391.85,146.7 391.85,191 390.35,191" fill="#806000"/>
<rect x="385.75" y="191" width="4.6" height="98.7" fill="#A5A5A5"/>
<polygon points="390.35,191 391.85,191 391.85,289.7 390.35,289.7" fill="#525252"/>
<rect x="385.75" y="36.45" width="6.1" height="0.9" fill="#2E3645" opacity="0.9"/>
<rect x="385.75" y="47.45" width="6.1" height="0.9" fill="#3A2719" opacity="0.9"/>
<rect x="385.75" y="69.15" width="6.1" height="0.9" fill="#2C2524" opacity="0.9"/>
<rect x="385.75" y="124.05" width="6.1" height="0.9" fill="#172F4C" opacity="0.9"/>
<rect x="385.75" y="146.25" width="6.1" height="0.9" fill="#49452C" opacity="0.9"/>
<rect x="385.75" y="190.55" width="6.1" height="0.9" fill="#5E5025" opacity="0.9"/>
<rect x="385.75" y="24.1" width="6.1" height="1.4" fill="#5E6276"/>
<text class="xl" text-anchor="end" transform="translate(388.35,297) rotate(-45)">TP53</text>
<rect x="397.01" y="24.8" width="4.6" height="11.5" fill="#7CAFDD"/>
<polygon points="401.61,24.8 403.11,24.8 403.11,36.3 401.61,36.3" fill="#3E586E"/>
<rect x="397.01" y="36.3" width="4.6" height="147.6" fill="#255E91"/>
<polygon points="401.61,36.3 403.11,36.3 403.11,183.9 401.61,183.9" fill="#122F48"/>
<rect x="397.01" y="183.9" width="4.6" height="105.8" fill="#A5A5A5"/>
<polygon points="401.61,183.9 403.11,183.9 403.11,289.7 401.61,289.7" fill="#525252"/>
<rect x="397.01" y="35.85" width="6.1" height="0.9" fill="#243C52" opacity="0.9"/>
<rect x="397.01" y="183.45" width="6.1" height="0.9" fill="#2D3A46" opacity="0.9"/>
<rect x="397.01" y="24.1" width="6.1" height="1.4" fill="#626979"/>
<text class="xl" text-anchor="end" transform="translate(399.61,297) rotate(-45)">USP9Y</text>
<rect x="408.28" y="24.8" width="4.6" height="14" fill="#F1975A"/>
<polygon points="412.88,24.8 414.38,24.8 414.38,38.8 412.88,38.8" fill="#784C2D"/>
<rect x="408.28" y="38.8" width="4.6" height="66.1" fill="#255E91"/>
<polygon points="412.88,38.8 414.38,38.8 414.38,104.9 412.88,104.9" fill="#122F48"/>
<rect x="408.28" y="104.9" width="4.6" height="12.9" fill="#FFC000"/>
<polygon points="412.88,104.9 414.38,104.9 414.38,117.8 412.88,117.8" fill="#806000"/>
<rect x="408.28" y="117.8" width="4.6" height="171.9" fill="#A5A5A5"/>
<polygon points="412.88,117.8 414.38,117.8 414.38,289.7 412.88,289.7" fill="#525252"/>
<rect x="408.28" y="38.35" width="6.1" height="0.9" fill="#3F3735" opacity="0.9"/>
<rect x="408.28" y="104.45" width="6.1" height="0.9" fill="#424020" opacity="0.9"/>
<rect x="408.28" y="117.35" width="6.1" height="0.9" fill="#5E5025" opacity="0.9"/>
<rect x="408.28" y="24.1" width="6.1" height="1.4" fill="#79645F"/>
<text class="xl" text-anchor="end" transform="translate(410.88,297) rotate(-45)">USP26</text>
<rect x="419.54" y="24.8" width="4.6" height="17.3" fill="#698ED0"/>
<polygon points="424.14,24.8 425.64,24.8 425.64,42.1 424.14,42.1" fill="#344768"/>
<rect x="419.54" y="42.1" width="4.6" height="49.4" fill="#255E91"/>
<polygon points="424.14,42.1 425.64,42.1 425.64,91.5 424.14,91.5" fill="#122F48"/>
<rect x="419.54" y="91.5" width="4.6" height="16.7" fill="#70AD47"/>
<polygon points="424.14,91.5 425.64,91.5 425.64,108.2 424.14,108.2" fill="#385624"/>
<rect x="419.54" y="108.2" width="4.6" height="49.7" fill="#FFC000"/>
<polygon points="424.14,108.2 425.64,108.2 425.64,157.9 424.14,157.9" fill="#806000"/>
<rect x="419.54" y="157.9" width="4.6" height="131.8" fill="#A5A5A5"/>
<polygon points="424.14,157.9 425.64,157.9 425.64,289.7 424.14,289.7" fill="#525252"/>
<rect x="419.54" y="41.65" width="6.1" height="0.9" fill="#20354F" opacity="0.9"/>
<rect x="419.54" y="91.05" width="6.1" height="0.9" fill="#213C31" opacity="0.9"/>
<rect x="419.54" y="107.75" width="6.1" height="0.9" fill="#535210" opacity="0.9"/>
<rect x="419.54" y="157.45" width="6.1" height="0.9" fill="#5E5025" opacity="0.9"/>
<rect x="419.54" y="24.1" width="6.1" height="1.4" fill="#5E6276"/>
<text class="xl" text-anchor="end" transform="translate(422.14,297) rotate(-45)">HSFA2</text>
<rect x="430.81" y="24.8" width="4.6" height="52.9" fill="#255E91"/>
<polygon points="435.41,24.8 436.91,24.8 436.91,77.7 435.41,77.7" fill="#122F48"/>
<rect x="430.81" y="77.7" width="4.6" height="18.3" fill="#70AD47"/>
<polygon points="435.41,77.7 436.91,77.7 436.91,96 435.41,96" fill="#385624"/>
<rect x="430.81" y="96" width="4.6" height="70.6" fill="#FFC000"/>
<polygon points="435.41,96 436.91,96 436.91,166.6 435.41,166.6" fill="#806000"/>
<rect x="430.81" y="166.6" width="4.6" height="123.1" fill="#A5A5A5"/>
<polygon points="435.41,166.6 436.91,166.6 436.91,289.7 435.41,289.7" fill="#525252"/>
<rect x="430.81" y="77.25" width="6.1" height="0.9" fill="#213C31" opacity="0.9"/>
<rect x="430.81" y="95.55" width="6.1" height="0.9" fill="#535210" opacity="0.9"/>
<rect x="430.81" y="166.15" width="6.1" height="0.9" fill="#5E5025" opacity="0.9"/>
<rect x="430.81" y="24.1" width="6.1" height="1.4" fill="#50586A"/>
<text class="xl" text-anchor="end" transform="translate(433.41,297) rotate(-45)">IL8</text>
<rect x="442.08" y="24.8" width="4.6" height="70.5" fill="#255E91"/>
<polygon points="446.68,24.8 448.18,24.8 448.18,95.3 446.68,95.3" fill="#122F48"/>
<rect x="442.08" y="95.3" width="4.6" height="13.9" fill="#70AD47"/>
<polygon points="446.68,95.3 448.18,95.3 448.18,109.2 446.68,109.2" fill="#385624"/>
<rect x="442.08" y="109.2" width="4.6" height="83" fill="#FFC000"/>
<polygon points="446.68,109.2 448.18,109.2 448.18,192.2 446.68,192.2" fill="#806000"/>
<rect x="442.08" y="192.2" width="4.6" height="97.5" fill="#A5A5A5"/>
<polygon points="446.68,192.2 448.18,192.2 448.18,289.7 446.68,289.7" fill="#525252"/>
<rect x="442.08" y="94.85" width="6.1" height="0.9" fill="#213C31" opacity="0.9"/>
<rect x="442.08" y="108.75" width="6.1" height="0.9" fill="#535210" opacity="0.9"/>
<rect x="442.08" y="191.75" width="6.1" height="0.9" fill="#5E5025" opacity="0.9"/>
<rect x="442.08" y="24.1" width="6.1" height="1.4" fill="#50586A"/>
<text class="xl" text-anchor="end" transform="translate(444.68,297) rotate(-45)">GPX4</text>
<rect x="453.34" y="24.8" width="4.6" height="78.6" fill="#B7B7B7"/>
<polygon points="457.94,24.8 459.44,24.8 459.44,103.4 457.94,103.4" fill="#5C5C5C"/>
<rect x="453.34" y="103.4" width="4.6" height="93" fill="#43682B"/>
<polygon points="457.94,103.4 459.44,103.4 459.44,196.4 457.94,196.4" fill="#223416"/>
<rect x="453.34" y="196.4" width="4.6" height="15.4" fill="#255E91"/>
<polygon points="457.94,196.4 459.44,196.4 459.44,211.8 457.94,211.8" fill="#122F48"/>
<rect x="453.34" y="211.8" width="4.6" height="15.7" fill="#4472C4"/>
<polygon points="457.94,211.8 459.44,211.8 459.44,227.5 457.94,227.5" fill="#223962"/>
<rect x="453.34" y="227.5" width="4.6" height="62.2" fill="#A5A5A5"/>
<polygon points="457.94,227.5 459.44,227.5 459.44,289.7 457.94,289.7" fill="#525252"/>
<rect x="453.34" y="102.95" width="6.1" height="0.9" fill="#384133" opacity="0.9"/>
<rect x="453.34" y="195.95" width="6.1" height="0.9" fill="#172D2A" opacity="0.9"/>
<rect x="453.34" y="211.35" width="6.1" height="0.9" fill="#172F4C" opacity="0.9"/>
<rect x="453.34" y="227.05" width="6.1" height="0.9" fill="#343F51" opacity="0.9"/>
<rect x="453.34" y="24.1" width="6.1" height="1.4" fill="#6E6A72"/>
<text class="xl" text-anchor="end" transform="translate(455.94,297) rotate(-45)">SRD5A2</text>
<rect x="464.61" y="24.8" width="4.6" height="109" fill="#255E91"/>
<polygon points="469.21,24.8 470.71,24.8 470.71,133.8 469.21,133.8" fill="#122F48"/>
<rect x="464.61" y="133.8" width="4.6" height="12.3" fill="#70AD47"/>
<polygon points="469.21,133.8 470.71,133.8 470.71,146.1 469.21,146.1" fill="#385624"/>
<rect x="464.61" y="146.1" width="4.6" height="11.8" fill="#4472C4"/>
<polygon points="469.21,146.1 470.71,146.1 470.71,157.9 469.21,157.9" fill="#223962"/>
<rect x="464.61" y="157.9" width="4.6" height="60" fill="#FFC000"/>
<polygon points="469.21,157.9 470.71,157.9 470.71,217.9 469.21,217.9" fill="#806000"/>
<rect x="464.61" y="217.9" width="4.6" height="71.8" fill="#A5A5A5"/>
<polygon points="469.21,217.9 470.71,217.9 470.71,289.7 469.21,289.7" fill="#525252"/>
<rect x="464.61" y="133.35" width="6.1" height="0.9" fill="#213C31" opacity="0.9"/>
<rect x="464.61" y="145.65" width="6.1" height="0.9" fill="#28413C" opacity="0.9"/>
<rect x="464.61" y="157.45" width="6.1" height="0.9" fill="#49452C" opacity="0.9"/>
<rect x="464.61" y="217.45" width="6.1" height="0.9" fill="#5E5025" opacity="0.9"/>
<rect x="464.61" y="24.1" width="6.1" height="1.4" fill="#50586A"/>
<text class="xl" text-anchor="end" transform="translate(467.21,297) rotate(-45)">POLG</text>
<rect x="475.87" y="24.8" width="4.6" height="18.3" fill="#255E91"/>
<polygon points="480.47,24.8 481.97,24.8 481.97,43.1 480.47,43.1" fill="#122F48"/>
<rect x="475.87" y="43.1" width="4.6" height="17.3" fill="#70AD47"/>
<polygon points="480.47,43.1 481.97,43.1 481.97,60.4 480.47,60.4" fill="#385624"/>
<rect x="475.87" y="60.4" width="4.6" height="17.7" fill="#FFC000"/>
<polygon points="480.47,60.4 481.97,60.4 481.97,78.1 480.47,78.1" fill="#806000"/>
<rect x="475.87" y="78.1" width="4.6" height="211.6" fill="#A5A5A5"/>
<polygon points="480.47,78.1 481.97,78.1 481.97,289.7 480.47,289.7" fill="#525252"/>
<rect x="475.87" y="42.65" width="6.1" height="0.9" fill="#213C31" opacity="0.9"/>
<rect x="475.87" y="59.95" width="6.1" height="0.9" fill="#535210" opacity="0.9"/>
<rect x="475.87" y="77.65" width="6.1" height="0.9" fill="#5E5025" opacity="0.9"/>
<rect x="475.87" y="24.1" width="6.1" height="1.4" fill="#50586A"/>
<text class="xl" text-anchor="end" transform="translate(478.47,297) rotate(-45)">RBMY1A1</text>
<rect x="487.14" y="24.8" width="4.6" height="19.2" fill="#B7B7B7"/>
<polygon points="491.74,24.8 493.24,24.8 493.24,44 491.74,44" fill="#5C5C5C"/>
<rect x="487.14" y="44" width="4.6" height="16" fill="#F1975A"/>
<polygon points="491.74,44 493.24,44 493.24,60 491.74,60" fill="#784C2D"/>
<rect x="487.14" y="60" width="4.6" height="52" fill="#43682B"/>
<polygon points="491.74,60 493.24,60 493.24,112 491.74,112" fill="#223416"/>
<rect x="487.14" y="112" width="4.6" height="16.4" fill="#264478"/>
<polygon points="491.74,112 493.24,112 493.24,128.4 491.74,128.4" fill="#13223C"/>
<rect x="487.14" y="128.4" width="4.6" height="13.4" fill="#70AD47"/>
<polygon points="491.74,128.4 493.24,128.4 493.24,141.8 491.74,141.8" fill="#385624"/>
<rect x="487.14" y="141.8" width="4.6" height="53.6" fill="#4472C4"/>
<polygon points="491.74,141.8 493.24,141.8 493.24,195.4 491.74,195.4" fill="#223962"/>
<rect x="487.14" y="195.4" width="4.6" height="79" fill="#A5A5A5"/>
<polygon points="491.74,195.4 493.24,195.4 493.24,274.4 491.74,274.4" fill="#525252"/>
<rect x="487.14" y="274.4" width="4.6" height="15.3" fill="#5B9BD5"/>
<polygon points="491.74,274.4 493.24,274.4 493.24,289.7 491.74,289.7" fill="#2E4E6A"/>
<rect x="487.14" y="43.55" width="6.1" height="0.9" fill="#5F4B3D" opacity="0.9"/>
<rect x="487.14" y="59.55" width="6.1" height="0.9" fill="#453A1E" opacity="0.9"/>
<rect x="487.14" y="111.55" width="6.1" height="0.9" fill="#172725" opacity="0.9"/>
<rect x="487.14" y="127.95" width="6.1" height="0.9" fill="#22362B" opacity="0.9"/>
<rect x="487.14" y="141.35" width="6.1" height="0.9" fill="#28413C" opacity="0.9"/>
<rect x="487.14" y="194.95" width="6.1" height="0.9" fill="#343F51" opacity="0.9"/>
<rect x="487.14" y="273.95" width="6.1" height="0.9" fill="#3A4855" opacity="0.9"/>
<rect x="487.14" y="24.1" width="6.1" height="1.4" fill="#6E6A72"/>
<text class="xl" text-anchor="end" transform="translate(489.74,297) rotate(-45)">WT1</text>
<rect x="498.41" y="24.8" width="4.6" height="18.3" fill="#70AD47"/>
<polygon points="503.01,24.8 504.51,24.8 504.51,43.1 503.01,43.1" fill="#385624"/>
<rect x="498.41" y="43.1" width="4.6" height="123.5" fill="#FFC000"/>
<polygon points="503.01,43.1 504.51,43.1 504.51,166.6 503.01,166.6" fill="#806000"/>
<rect x="498.41" y="166.6" width="4.6" height="123.1" fill="#A5A5A5"/>
<polygon points="503.01,166.6 504.51,166.6 504.51,289.7 503.01,289.7" fill="#525252"/>
<rect x="498.41" y="42.65" width="6.1" height="0.9" fill="#535210" opacity="0.9"/>
<rect x="498.41" y="166.15" width="6.1" height="0.9" fill="#5E5025" opacity="0.9"/>
<rect x="498.41" y="24.1" width="6.1" height="1.4" fill="#60685B"/>
<text class="xl" text-anchor="end" transform="translate(501.01,297) rotate(-45)">AKAP4</text>
<rect x="63.4" y="334" width="2.8" height="2.8" fill="#497CAA"/>
<text class="lg" x="67.5" y="337" textLength="45.8" lengthAdjust="spacing">Androgen insensitivity</text>
<rect x="63.4" y="343.6" width="2.8" height="2.8" fill="#365B9D"/>
<text class="lg" x="67.5" y="346.6" textLength="31.1" lengthAdjust="spacing">Cryptorchidism</text>
<rect x="63.4" y="353.2" width="2.8" height="2.8" fill="#4F4F4F"/>
<text class="lg" x="67.5" y="356.2" textLength="45.5" lengthAdjust="spacing">Semen quality defects</text>
<rect x="63.4" y="362.6" width="2.8" height="2.8" fill="#638CB1"/>
<text class="lg" x="67.5" y="365.6" textLength="63.5" lengthAdjust="spacing">Congenital adrenal hyperplasia</text>
<rect x="63.4" y="372" width="2.8" height="2.8" fill="#5472A6"/>
<text class="lg" x="67.5" y="375" textLength="21" lengthAdjust="spacing">Varicocele</text>
<rect x="162.2" y="334" width="2.8" height="2.8" fill="#BE6427"/>
<text class="lg" x="166.3" y="337" textLength="14.5" lengthAdjust="spacing">CBAVD</text>
<rect x="162.2" y="343.6" width="2.8" height="2.8" fill="#5A8A39"/>
<text class="lg" x="166.3" y="346.6" textLength="39.5" lengthAdjust="spacing">Sperm morphology</text>
<rect x="162.2" y="353.2" width="2.8" height="2.8" fill="#7A5C00"/>
<text class="lg" x="166.3" y="356.2" textLength="36.5" lengthAdjust="spacing">Fertilizing defects</text>
<rect x="162.2" y="362.6" width="2.8" height="2.8" fill="#C17948"/>
<text class="lg" x="166.3" y="365.6" textLength="69.9" lengthAdjust="spacing">Hypogonadotropic hypogonadism</text>
<rect x="261.5" y="334" width="2.8" height="2.8" fill="#848484"/>
<text class="lg" x="265.6" y="337" textLength="47.2" lengthAdjust="spacing">Sperm number defects</text>
<rect x="261.5" y="343.6" width="2.8" height="2.8" fill="#1E4B74"/>
<text class="lg" x="265.6" y="346.6" textLength="92" lengthAdjust="spacing">Male infertility (Cause unknown)(Percentage)</text>
<rect x="261.5" y="353.2" width="2.8" height="2.8" fill="#1E3660"/>
<text class="lg" x="265.6" y="356.2" textLength="38.6" lengthAdjust="spacing">Congenital defects</text>
<rect x="261.5" y="362.6" width="2.8" height="2.8" fill="#929292"/>
<text class="lg" x="265.6" y="365.6" textLength="26.4" lengthAdjust="spacing">Hypospadias</text>
<rect x="360.5" y="334" width="2.8" height="2.8" fill="#CC9A00"/>
<text class="lg" x="364.6" y="337" textLength="46" lengthAdjust="spacing">Sperm motility defects</text>
<rect x="360.5" y="343.6" width="2.8" height="2.8" fill="#7E3A0B"/>
<text class="lg" x="364.6" y="346.6" textLength="36.3" lengthAdjust="spacing">Testicular defects</text>
<rect x="360.5" y="353.2" width="2.8" height="2.8" fill="#365322"/>
<text class="lg" x="364.6" y="356.2" textLength="35.7" lengthAdjust="spacing">Sex Development</text>
<rect x="360.5" y="362.6" width="2.8" height="2.8" fill="#CCA429"/>
<text class="lg" x="364.6" y="365.6" textLength="46.3" lengthAdjust="spacing">Leydig cell dysfunction</text>
<rect x="0" y="0" width="2" height="381" fill="#D9D9D9"/>
<rect x="518.6" y="0" width="1.4" height="381" fill="#BDBDBD"/>
<rect x="0" y="0" width="520" height="1.9" fill="#DADADA"/>
<rect x="0" y="379.5" width="520" height="1.5" fill="#E3E3E3"/>
<circle cx="0.2" cy="0.2" r="3" fill="#FFFFFF" stroke="#7A7A7A" stroke-width="0.9"/>
<circle cx="260.4" cy="1" r="2.6" fill="#FFFFFF" stroke="#7A7A7A" stroke-width="0.9"/>
<circle cx="519.8" cy="0.2" r="3" fill="#FFFFFF" stroke="#7A7A7A" stroke-width="0.9"/>
<circle cx="1" cy="190.8" r="2.7" fill="#FFFFFF" stroke="#7A7A7A" stroke-width="0.9"/>
<circle cx="519.1" cy="190.6" r="2.7" fill="#FFFFFF" stroke="#7A7A7A" stroke-width="0.9"/>
<circle cx="0.2" cy="380.8" r="3" fill="#FFFFFF" stroke="#7A7A7A" stroke-width="0.9"/>
<circle cx="260.2" cy="381" r="2.4" fill="#FFFFFF" stroke="#7A7A7A" stroke-width="0.9"/>
<circle cx="520.2" cy="381.2" r="3" fill="#FFFFFF" stroke="#7A7A7A" stroke-width="0.9"/>
</svg>
</body></html>
